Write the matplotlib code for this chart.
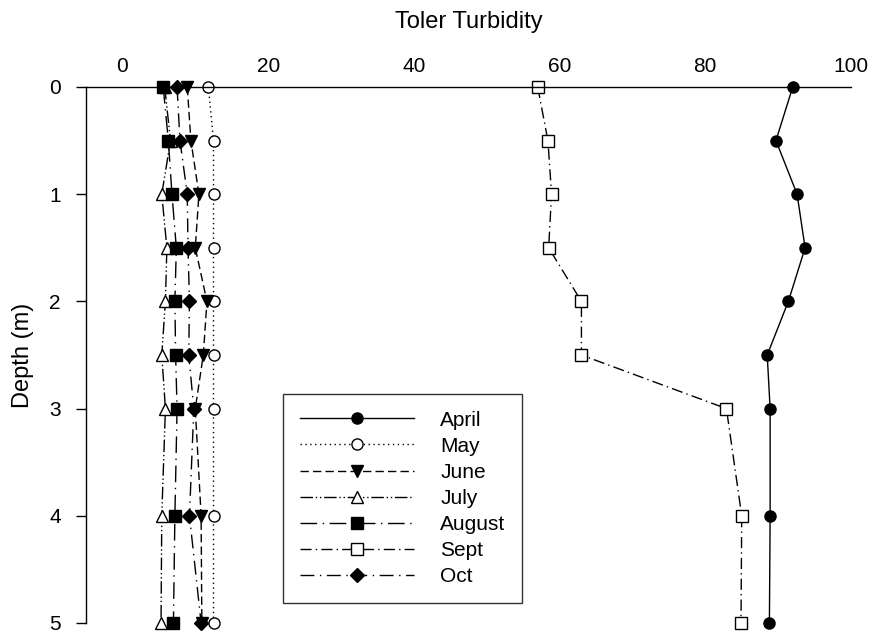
import matplotlib
matplotlib.use("Agg")
import matplotlib.pyplot as plt

plt.rcParams['font.family'] = ['Liberation Sans', 'DejaVu Sans']

# Sampling depths (m)
depth = [0, 0.5, 1, 1.5, 2, 2.5, 3, 4, 5]

# Turbidity profiles by month
april = [92.0, 89.7, 92.6, 93.7, 91.4, 88.5, 88.9, 88.9, 88.8]
may = [11.8, 12.5, 12.5, 12.5, 12.5, 12.5, 12.5, 12.5, 12.5]
june = [8.9, 9.4, 10.5, 10.0, 11.6, 11.1, 10.0, 10.8, 10.9]
july = [5.8, 6.6, 5.4, 6.1, 5.9, 5.4, 5.9, 5.4, 5.3]
august = [5.6, 6.3, 6.8, 7.4, 7.2, 7.3, 7.5, 7.2, 7.0]
sept = [57.0, 58.4, 58.9, 58.5, 63.0, 63.0, 82.9, 85.0, 84.9]
october = [7.5, 7.9, 8.9, 9.0, 9.2, 9.1, 9.8, 9.2, 10.8]

labels = ["April", "May", "June", "July", "August", "Sept", "Oct"]
series = [april, may, june, july, august, sept, october]

xticks = [0, 20, 40, 60, 80, 100]
yticks = [0, 1, 2, 3, 4, 5]

styles = [
    dict(ls='-', marker='o', mfc='black'),
    dict(ls=(0, (1, 2.5)), marker='o', mfc='white'),
    dict(ls=(0, (6, 3)), marker='v', mfc='black'),
    dict(ls=(0, (9, 2, 1, 2, 1, 2)), marker='^', mfc='white'),
    dict(ls=(0, (12, 4, 1, 4)), marker='s', mfc='black'),
    dict(ls=(0, (8, 3, 1, 3)), marker='s', mfc='white'),
    dict(ls=(0, (10, 4, 1, 4)), marker='D', mfc='black'),
]

fig = plt.figure(figsize=(8.7, 6.34), dpi=100)
ax = fig.add_axes([86 / 870, 1 - 623 / 634, (851 - 86) / 870, (623 - 87) / 634])

for lab, vals, st in zip(labels, series, styles):
    ms = 7 if st['marker'] == 'D' else 8
    ax.plot(vals, depth, color='black', lw=1.0, linestyle=st['ls'],
            marker=st['marker'], markersize=ms, markerfacecolor=st['mfc'],
            markeredgecolor='black', markeredgewidth=1.0, label=lab,
            clip_on=False)

ax.set_xlim(-5, 100)
ax.set_ylim(5, 0)
ax.set_xticks(xticks)
ax.set_yticks(yticks)
ax.xaxis.tick_top()
ax.tick_params(axis='x', length=0, pad=8, labelsize=15)
ax.tick_params(axis='y', direction='out', length=7, width=1, pad=11, labelsize=15)

for side in ['right', 'bottom']:
    ax.spines[side].set_visible(False)
for side in ['left', 'top']:
    ax.spines[side].set_linewidth(1.0)

ax.set_ylabel("Depth (m)", fontsize=17, labelpad=11)
ax.xaxis.set_label_position('top')
ax.set_xlabel("Toler Turbidity", fontsize=17, labelpad=21)

leg = ax.legend(loc='upper left', bbox_to_anchor=(283 / 870, 1 - 394 / 634),
                bbox_transform=fig.transFigure, fontsize=15, frameon=True,
                fancybox=False, edgecolor='black', handlelength=5.5,
                handletextpad=1.25, labelspacing=0.34, borderpad=0.8,
                borderaxespad=0)
leg.get_frame().set_linewidth(1.0)

fig.savefig("out.png", dpi=100)
